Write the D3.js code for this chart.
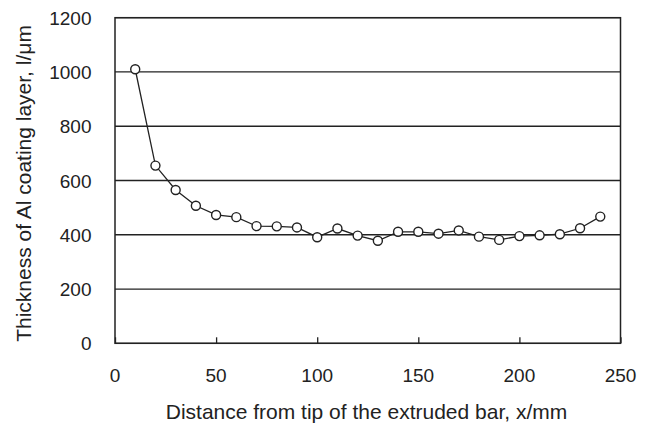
<!DOCTYPE html>
<html>
<head>
<meta charset="utf-8">
<script src="https://cdn.jsdelivr.net/npm/d3@7"></script>
<style>
  body { margin: 0; background: #fff; }
  text { font-family: "Liberation Sans", Arial, sans-serif; fill: #222; }
</style>
</head>
<body>
<svg></svg>
<script>
var distance = [10, 20, 30, 40, 50, 60, 70, 80, 90, 100, 110, 120, 130, 140, 150, 160, 170, 180, 190, 200, 210, 220, 230, 240];
var thickness = [1010, 655, 565, 507, 473, 465, 432, 431, 427, 391, 423, 397, 378, 411, 411, 404, 416, 393, 381, 395, 398, 402, 424, 467];
var xTicks = [0, 50, 100, 150, 200, 250];
var yTicks = [0, 200, 400, 600, 800, 1000, 1200];

var svgWidth = 654, svgHeight = 423;
var plotLeft = 115, plotRight = 620.5, plotTop = 17.7, plotBottom = 343.3;

var svg = d3.select('svg')
    .attr("width", svgWidth)
    .attr("height", svgHeight);

var x = d3.scaleLinear().domain([0, 250]).range([plotLeft, plotRight]);
var y = d3.scaleLinear().domain([0, 1200]).range([plotBottom, plotTop]);

// horizontal grid
svg.selectAll("line.grid")
    .data(yTicks)
    .enter()
    .append("line")
    .attr("class", "grid")
    .attr("x1", plotLeft).attr("x2", plotRight)
    .attr("y1", d => y(d)).attr("y2", d => y(d))
    .attr("stroke", "#222")
    .attr("stroke-width", 1.3);

// frame
svg.append("rect")
    .attr("x", plotLeft).attr("y", plotTop)
    .attr("width", plotRight - plotLeft).attr("height", plotBottom - plotTop)
    .attr("fill", "none")
    .attr("stroke", "#222")
    .attr("stroke-width", 1.5);

// x axis ticks (inward)
var xAxis = svg.append("g")
    .attr("transform", "translate(0," + plotBottom + ")")
    .call(d3.axisTop(x).tickValues(xTicks).tickSize(6).tickFormat(""));
xAxis.select(".domain").remove();
xAxis.selectAll("line").attr("stroke", "#222").attr("stroke-width", 1.3);

svg.selectAll("text.xlab")
    .data(xTicks)
    .enter()
    .append("text")
    .attr("class", "xlab")
    .attr("x", d => x(d))
    .attr("y", 381.5)
    .attr("text-anchor", "middle")
    .attr("font-size", 19)
    .text(d => d);

svg.selectAll("text.ylab")
    .data(yTicks)
    .enter()
    .append("text")
    .attr("class", "ylab")
    .attr("x", 91.5)
    .attr("y", d => y(d) + 7)
    .attr("text-anchor", "end")
    .attr("font-size", 19)
    .text(d => d);

// series line
var line = d3.line()
    .x((d, i) => x(distance[i]))
    .y(d => y(d));

svg.append("path")
    .datum(thickness)
    .attr("d", line)
    .attr("fill", "none")
    .attr("stroke", "#222")
    .attr("stroke-width", 1.3);

svg.selectAll("circle")
    .data(thickness)
    .enter()
    .append("circle")
    .attr("cx", (d, i) => x(distance[i]))
    .attr("cy", d => y(d))
    .attr("r", 4.5)
    .attr("fill", "#fff")
    .attr("stroke", "#222")
    .attr("stroke-width", 1.4);

// axis titles
svg.append("text")
    .attr("x", 366.5)
    .attr("y", 419)
    .attr("text-anchor", "middle")
    .attr("font-size", 21)
    .text("Distance from tip of the extruded bar, x/mm");

svg.append("text")
    .attr("transform", "translate(31,183.5) rotate(-90)")
    .attr("text-anchor", "middle")
    .attr("font-size", 21)
    .text("Thickness of Al coating layer, l/μm");
</script>
</body>
</html>
